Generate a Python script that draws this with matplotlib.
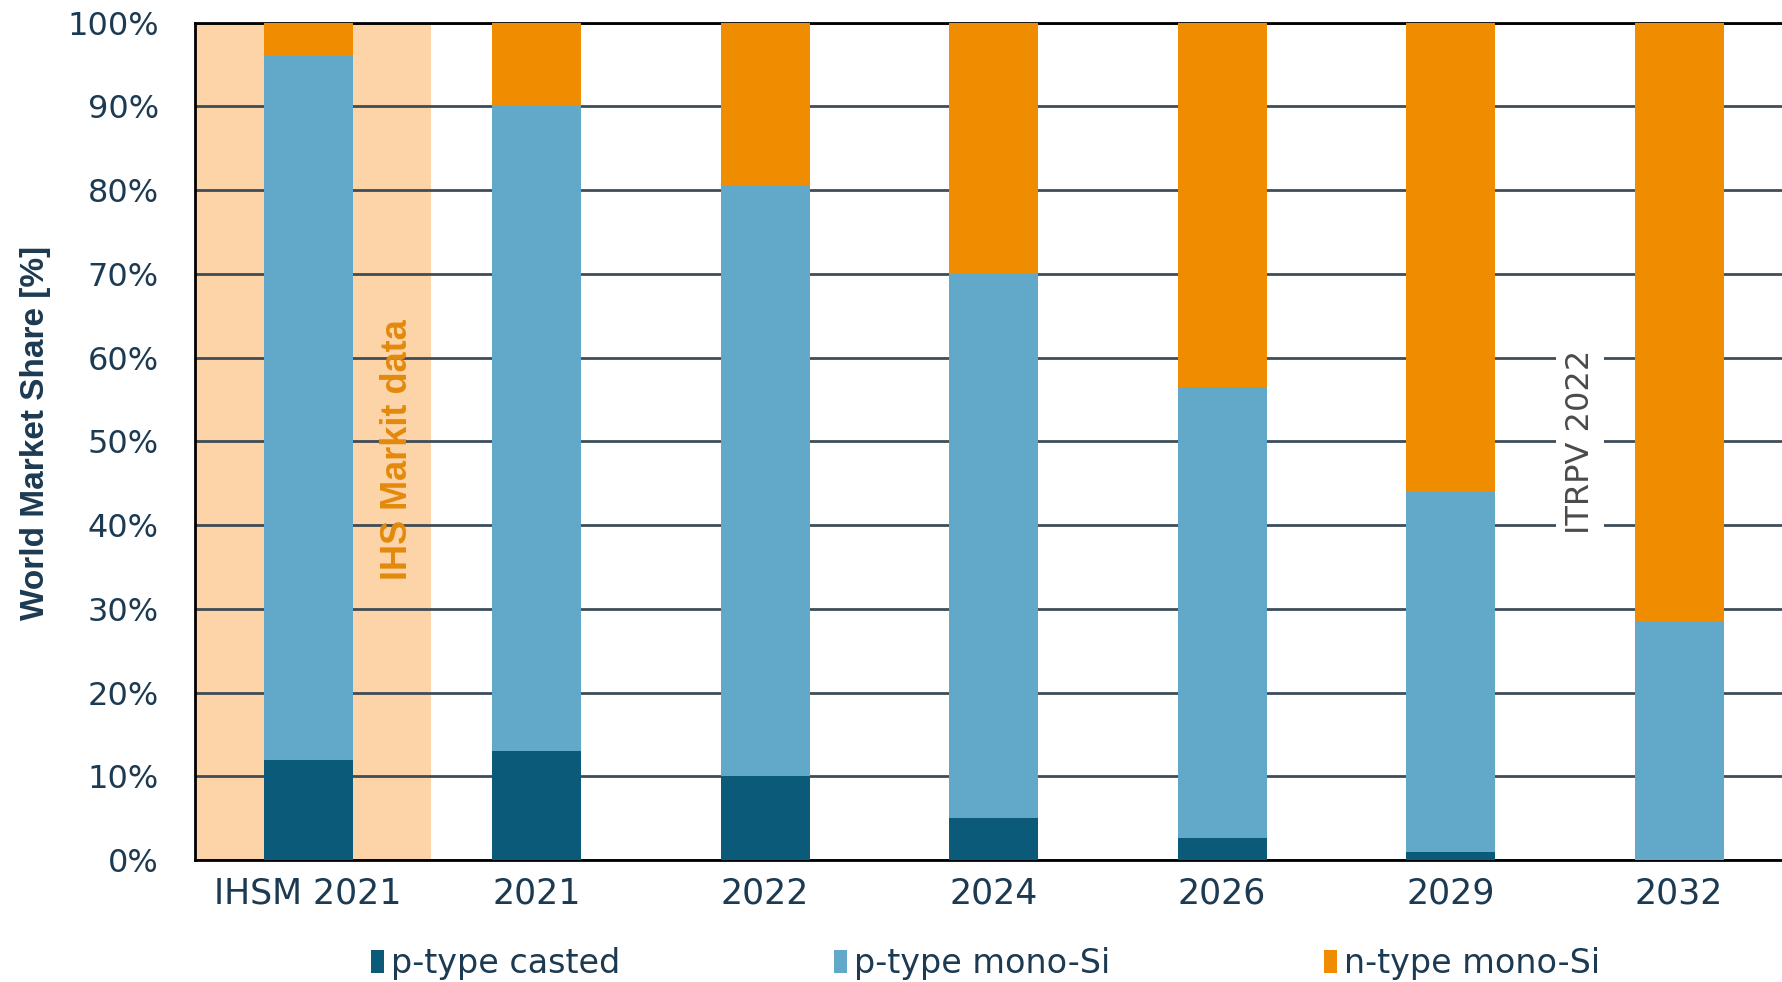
import matplotlib.pyplot as plt
from matplotlib.ticker import FuncFormatter

plt.rcParams['font.family'] = ['DejaVu Sans']

categories = ['IHSM 2021', '2021', '2022', '2024', '2026', '2029', '2032']
p_casted = [12, 13, 10, 5, 2.7, 1, 0]
p_mono = [84, 77, 70.5, 65, 53.8, 43, 28.5]
n_mono = [4, 10, 19.5, 30, 43.5, 56, 71.5]

c_casted = '#0b5a7a'
c_pmono = '#62a8c8'
c_nmono = '#f08c00'
c_shade = '#fdd3a8'
c_text = '#1c3a52'

fig = plt.figure(figsize=(17.82, 9.82), dpi=100)
ax = fig.add_axes([0.1094, 0.124, 0.8906, 0.853])

x = list(range(len(categories)))
w = 0.39

# shaded band for the IHS Markit column
ax.axvspan(-0.6, 0.54, color=c_shade, zorder=0, lw=0)

ax.set_axisbelow(True)
ax.yaxis.grid(True, color='#3e4c58', lw=2)

bottoms2 = [a + b for a, b in zip(p_casted, p_mono)]
b1 = ax.bar(x, p_casted, w, color=c_casted, label='p-type casted', zorder=3)
b2 = ax.bar(x, p_mono, w, bottom=p_casted, color=c_pmono, label='p-type mono-Si', zorder=3)
b3 = ax.bar(x, n_mono, w, bottom=bottoms2, color=c_nmono, label='n-type mono-Si', zorder=3)

ax.set_xlim(-0.495, 6.45)
ax.set_ylim(0, 100)
ax.set_yticks(range(0, 101, 10))
ax.yaxis.set_major_formatter(FuncFormatter(lambda v, p: f'{v:.0f}%'))
ax.set_xticks(x)
ax.set_xticklabels(categories)
ax.tick_params(axis='both', length=0, colors=c_text)
ax.tick_params(axis='y', pad=26, labelsize=23)
ax.tick_params(axis='x', pad=12, labelsize=25)

for s in ['left', 'bottom', 'top']:
    ax.spines[s].set_color('black')
    ax.spines[s].set_linewidth(2)
ax.spines['right'].set_visible(False)

ax.set_ylabel('World Market Share [%]', fontsize=24, fontweight='bold', color=c_text,
              family='Liberation Sans')
ax.yaxis.set_label_coords(-0.091, 0.51)

ax.text(0.393, 49, 'IHS Markit data', rotation=90, ha='center', va='center',
        fontsize=26, fontweight='bold', family='Liberation Sans', color='#e38a0c', zorder=4)
ax.text(5.567, 50, 'ITRPV 2022', rotation=90, ha='center', va='center',
        fontsize=23, color='#4a4a4a', zorder=4,
        bbox=dict(facecolor='white', edgecolor='none', pad=6))

fig.legend(handles=[b1, b2, b3], loc='center', bbox_to_anchor=(0.553, 0.019),
           ncol=3, frameon=False, fontsize=24, handlelength=0.41, handleheight=0.68,
           handletextpad=0.2, columnspacing=6.4, labelcolor=c_text)

fig.savefig('out.png', dpi=100)
